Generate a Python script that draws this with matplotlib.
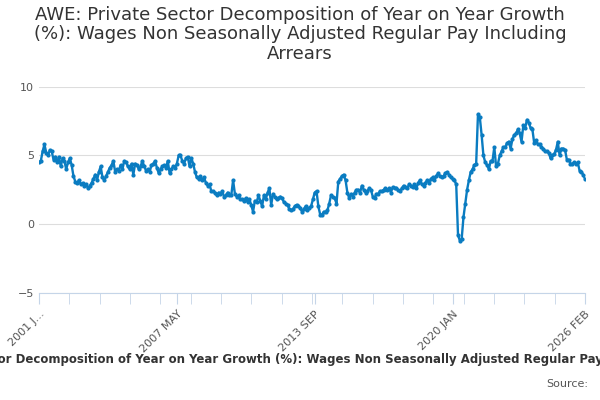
import matplotlib.pyplot as plt

# Monthly year-on-year growth (%), Jan 2001 .. Feb 2026
growth = [
    4.5, 4.6, 5.3, 5.8, 5.2, 5.0, 5.4, 5.3, 4.7, 4.9, 4.5, 4.9,   # 2001
    4.2, 4.8, 4.6, 4.0, 4.5, 4.8, 4.3, 3.5, 3.1, 3.0, 3.2, 2.9,   # 2002
    3.0, 2.8, 2.9, 2.6, 2.8, 3.0, 3.3, 3.6, 3.2, 3.8, 4.2, 3.4,   # 2003
    3.2, 3.5, 3.8, 4.1, 4.3, 4.6, 3.8, 4.0, 3.9, 4.3, 4.0, 4.6,   # 2004
    4.5, 4.2, 4.0, 4.4, 3.6, 4.4, 4.3, 4.0, 4.2, 4.6, 4.2, 3.9,   # 2005
    4.0, 3.8, 4.3, 4.4, 4.6, 4.1, 3.7, 4.0, 4.2, 4.3, 4.1, 4.6,   # 2006
    3.7, 4.0, 4.2, 4.1, 4.4, 5.0, 5.0, 4.6, 4.4, 4.8, 4.9, 4.2,   # 2007
    4.8, 4.4, 3.8, 3.4, 3.3, 3.5, 3.2, 3.4, 3.0, 2.8, 2.9, 2.4,   # 2008
    2.4, 2.3, 2.1, 2.3, 2.2, 2.4, 2.0, 2.1, 2.3, 2.1, 2.1, 3.2,   # 2009
    2.2, 2.0, 2.1, 1.8, 1.8, 1.7, 1.9, 1.6, 1.8, 1.4, 0.9, 1.7,   # 2010
    1.6, 2.1, 1.7, 1.3, 2.1, 1.8, 2.3, 2.6, 1.4, 2.2, 2.0, 1.8,   # 2011
    1.9, 2.0, 1.9, 1.6, 1.5, 1.4, 1.1, 1.0, 1.1, 1.3, 1.4, 1.3,   # 2012
    1.2, 0.9, 1.1, 1.3, 1.0, 1.2, 1.3, 1.8, 2.3, 2.4, 1.3, 0.7,   # 2013
    0.7, 0.9, 0.9, 1.0, 1.5, 2.1, 2.0, 1.9, 1.5, 3.1, 3.3, 3.5,   # 2014
    3.6, 3.2, 2.3, 1.9, 2.2, 2.0, 2.3, 2.5, 2.5, 2.3, 2.8, 2.5,   # 2015
    2.3, 2.4, 2.6, 2.5, 2.0, 1.9, 2.2, 2.2, 2.4, 2.4, 2.5, 2.6,   # 2016
    2.5, 2.6, 2.3, 2.7, 2.6, 2.6, 2.5, 2.4, 2.6, 2.8, 2.7, 2.6,   # 2017
    2.9, 2.8, 2.7, 2.9, 2.6, 3.0, 3.2, 2.9, 2.8, 3.0, 3.2, 3.0,   # 2018
    3.3, 3.4, 3.2, 3.5, 3.7, 3.5, 3.4, 3.5, 3.7, 3.8, 3.6, 3.4,   # 2019
    3.3, 3.2, 2.9, -0.8, -1.2, -1.1, 0.5, 1.5, 2.5, 3.2, 3.8, 4.0,  # 2020
    4.3, 4.4, 8.0, 7.8, 6.5, 5.0, 4.5, 4.3, 4.0, 4.6, 4.6, 5.6,   # 2021
    4.2, 4.4, 5.0, 5.3, 5.6, 5.6, 5.9, 6.0, 5.5, 6.2, 6.5, 6.6,   # 2022
    6.9, 6.6, 6.0, 7.2, 7.0, 7.6, 7.4, 7.0, 6.9, 5.9, 6.1, 5.8,   # 2023
    5.8, 5.6, 5.5, 5.3, 5.3, 5.2, 4.8, 5.0, 5.1, 5.4, 6.0, 5.0,   # 2024
    5.5, 5.5, 5.4, 4.7, 4.7, 4.4, 4.4, 4.5, 4.4, 4.5, 3.9, 3.8,   # 2025
    3.6, 3.3,                                                     # 2026
]
x = list(range(len(growth)))
color = '#0a7cc1'

fig = plt.figure(figsize=(6, 4), dpi=100)
ax = fig.add_axes([0.065, 0.268, 0.91, 0.515])
ax.plot(x, growth, color=color, linewidth=1.7, marker='o', markersize=2)

ax.set_ylim(-5, 10)
ax.set_yticks([-5, 0, 5, 10])
ax.set_xlim(0, len(growth) - 1)
ax.grid(axis='y', color='#dddddd', linewidth=0.8)
ax.tick_params(axis='y', length=0, labelsize=8, colors='#555555')
for s in ['top', 'right', 'left']:
    ax.spines[s].set_visible(False)
ax.spines['bottom'].set_color('#c5d5e8')

major = [0, 76, 152, 228, 301]
ax.set_xticks(major)
ax.set_xticklabels(['2001 J...', '2007 MAY', '2013 SEP', '2020 JAN', '2026 FEB'],
                   rotation=45, ha='right', rotation_mode='anchor', fontsize=8, color='#555555')
ax.set_xticks([i * 301 / 18 for i in range(19)], minor=True)
ax.tick_params(axis='x', which='both', length=8, color='#c5d5e8')

fig.text(0.5, 0.985, 'AWE: Private Sector Decomposition of Year on Year Growth\n'
         '(%): Wages Non Seasonally Adjusted Regular Pay Including\nArrears',
         ha='center', va='top', fontsize=13, color='#333333', linespacing=1.1)
fig.text(0.5, 0.1, 'AWE: Private Sector Decomposition of Year on Year Growth (%): Wages Non Seasonally Adjusted Regular Pay Including Arrears',
         ha='center', va='center', fontsize=8.5, fontweight='bold', color='#333333')
fig.text(0.98, 0.04, 'Source:', ha='right', va='center', fontsize=8, color='#555555')

fig.savefig('out.png', dpi=100)
